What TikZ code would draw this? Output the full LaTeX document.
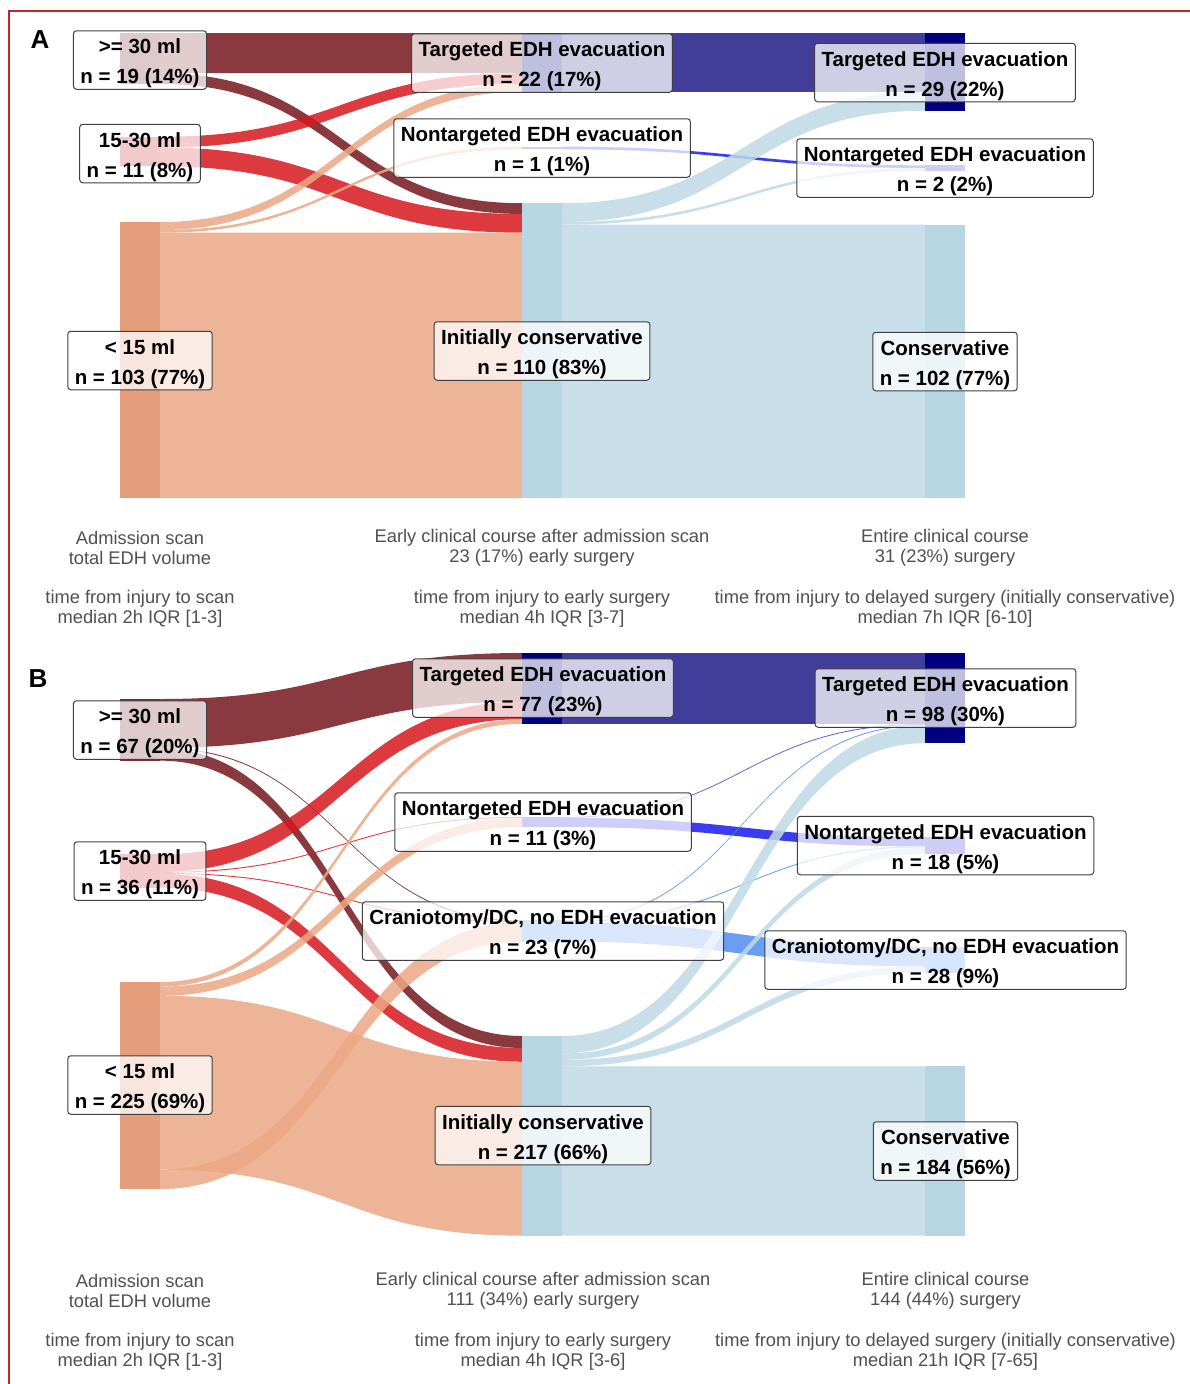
\documentclass[tikz,border=0pt]{standalone}
\usepackage{fontspec}
\setmainfont{Liberation Sans}
\definecolor{frameRed}{RGB}{194,38,45}
\definecolor{cDk}{RGB}{118,23,30}
\definecolor{cRd}{RGB}{214,24,29}
\definecolor{cOr}{RGB}{236,168,133}
\definecolor{cSl}{RGB}{34,28,136}
\definecolor{cBl}{RGB}{26,26,237}
\definecolor{cCf}{RGB}{80,141,243}
\definecolor{cLb}{RGB}{191,218,230}
\definecolor{cPu}{RGB}{100,70,200}
\definecolor{nDk}{RGB}{125,45,52}
\definecolor{nRd}{RGB}{205,45,52}
\definecolor{nOr}{RGB}{229,158,124}
\definecolor{nNv}{RGB}{0,0,128}
\definecolor{nBl}{RGB}{60,60,232}
\definecolor{nCf}{RGB}{92,156,244}
\definecolor{nLb}{RGB}{181,214,226}
\definecolor{capGray}{RGB}{80,80,80}
\newcommand{\sfl}[6]{%
  \pgfmathsetmacro{\sflm}{(#1+#3)/2}%
  \fill[#6] (#1,#2) .. controls (\sflm,#2) and (\sflm,#4) .. (#3,#4) -- (#3,#4+#5) .. controls (\sflm,#4+#5) and (\sflm,#2+#5) .. (#1,#2+#5) -- cycle;}
\newcommand{\lbltxt}[2]{\rule{0pt}{22pt}#1\\#2\rule[-4.5pt]{0pt}{4.5pt}}
\tikzset{
  fdk/.style={fill=cDk, fill opacity=0.85},
  frd/.style={fill=cRd, fill opacity=0.85},
  for/.style={fill=cOr, fill opacity=0.85},
  fsl/.style={fill=cSl, fill opacity=0.85},
  fbl/.style={fill=cBl, fill opacity=0.85},
  fcf/.style={fill=cCf, fill opacity=0.85},
  flb/.style={fill=cLb, fill opacity=0.85},
  fpu/.style={fill=cPu, fill opacity=0.85},
  lbl/.style={draw=black!75, line width=1pt, rounded corners=3pt, fill=white, fill opacity=0.75, text opacity=1, align=center, inner xsep=7pt, inner ysep=1pt, font=\bfseries\fontsize{20.5}{30}\selectfont},
  capt/.style={align=center, inner sep=0pt, text=capGray, font=\fontsize{18.3}{20}\selectfont},
  letter/.style={inner sep=0pt, font=\bfseries\fontsize{26}{26}\selectfont}
}
\begin{document}
\begin{tikzpicture}[x=1pt,y=-1pt]
\useasboundingbox (0,0) rectangle (1190,1384);
\fill[white] (0,0) rectangle (1190,1384);
\draw[frameRed, line width=2pt] (9,1384) -- (9,11) -- (1190,11);

% ---------------- Panel A : flows ----------------
\sfl{160}{33}{522}{33}{40.2}{fdk}
\sfl{160}{73.2}{522}{203.24}{10.72}{fdk}
\sfl{160}{136.76}{522}{73.2}{10.72}{frd}
\sfl{160}{147.48}{522}{213.96}{18.76}{frd}
\sfl{160}{222}{522}{83.92}{8.04}{for}
\sfl{160}{230.04}{522}{146.66}{2.68}{for}
\sfl{160}{232.72}{522}{232.72}{265.32}{for}
\sfl{562}{33}{925}{33}{58.96}{fsl}
\sfl{562}{146.66}{925}{165.32}{2.68}{fbl}
\sfl{562}{203.24}{925}{91.96}{18.76}{flb}
\sfl{562}{222}{925}{168}{2.68}{flb}
\sfl{562}{224.68}{925}{224.68}{273.36}{flb}
% nodes A
\fill[nDk] (120,33) rectangle (160,83.92);
\fill[nRd] (120,136.76) rectangle (160,166.24);
\fill[nOr] (120,222) rectangle (160,498.04);
\fill[nNv] (522,33) rectangle (562,91.96);
\fill[nBl] (522,146.66) rectangle (562,149.34);
\fill[nLb] (522,203.24) rectangle (562,498.04);
\fill[nNv] (925,33) rectangle (965,110.72);
\fill[nBl] (925,165.32) rectangle (965,170.68);
\fill[nLb] (925,224.68) rectangle (965,498.04);

% ---------------- Panel B : flows ----------------
\sfl{160}{699}{522}{653}{48.76}{fdk}
\sfl{160}{747.76}{522}{920.42}{0.92}{fdk}
\sfl{160}{748.68}{522}{1036}{11.96}{fdk}
\sfl{160}{854.44}{522}{701.76}{17.48}{frd}
\sfl{160}{871.92}{522}{816.94}{0.92}{frd}
\sfl{160}{872.84}{522}{921.34}{0.92}{frd}
\sfl{160}{873.76}{522}{1047.96}{13.8}{frd}
\sfl{160}{982}{522}{719.24}{4.6}{for}
\sfl{160}{986.6}{522}{817.86}{9.2}{for}
\sfl{160}{995.8}{522}{1061.76}{173.88}{for}
\sfl{160}{1169.68}{522}{922.26}{19.32}{for}
\sfl{562}{653}{925}{653}{70.84}{fsl}
\sfl{562}{816.94}{925}{723.84}{0.92}{fpu}
\sfl{562}{817.86}{925}{837.22}{9.2}{fbl}
\sfl{562}{920.42}{925}{724.76}{0.92}{fcf}
\sfl{562}{921.34}{925}{846.42}{0.92}{fcf}
\sfl{562}{922.26}{925}{947.12}{19.32}{fcf}
\sfl{562}{1036}{925}{725.68}{17.48}{flb}
\sfl{562}{1053.48}{925}{847.34}{6.44}{flb}
\sfl{562}{1059.92}{925}{966.44}{6.44}{flb}
\sfl{562}{1066.36}{925}{1066.36}{169.28}{flb}
% nodes B
\fill[nDk] (120,699) rectangle (160,760.64);
\fill[nRd] (120,854.44) rectangle (160,887.56);
\fill[nOr] (120,982) rectangle (160,1189);
\fill[nNv] (522,653) rectangle (562,723.84);
\fill[nBl] (522,816.94) rectangle (562,827.06);
\fill[nCf] (522,920.42) rectangle (562,941.58);
\fill[nLb] (522,1036) rectangle (562,1235.64);
\fill[nNv] (925,653) rectangle (965,743.16);
\fill[nBl] (925,837.22) rectangle (965,853.78);
\fill[nCf] (925,947.12) rectangle (965,972.88);
\fill[nLb] (925,1066.36) rectangle (965,1235.64);

% ---------------- labels A ----------------
\node[letter] (LA) at (40,40) {A};
\node[lbl] (a1) at (140,60) {\lbltxt{>= 30 ml}{n = 19 (14\%)}};
\node[lbl] (a2) at (140,153.5) {\lbltxt{15-30 ml}{n = 11 (8\%)}};
\node[lbl] (a3) at (140,360.5) {\lbltxt{< 15 ml}{n = 103 (77\%)}};
\node[lbl] (a4) at (542,63) {\lbltxt{Targeted EDH evacuation}{n = 22 (17\%)}};
\node[lbl] (a5) at (542,148) {\lbltxt{Nontargeted EDH evacuation}{n = 1 (1\%)}};
\node[lbl] (a6) at (542,351) {\lbltxt{Initially conservative}{n = 110 (83\%)}};
\node[lbl] (a7) at (945,72.5) {\lbltxt{Targeted EDH evacuation}{n = 29 (22\%)}};
\node[lbl] (a8) at (945,168) {\lbltxt{Nontargeted EDH evacuation}{n = 2 (2\%)}};
\node[lbl] (a9) at (945,361.5) {\lbltxt{Conservative}{n = 102 (77\%)}};

\node[capt] (ca1) at (140,548) {Admission scan\\total EDH volume};
\node[capt] (ca2) at (542,548) {Early clinical course after admission scan\\23 (17\%) early surgery};
\node[capt] (ca3) at (945,548) {Entire clinical course\\31 (23\%) surgery};
\node[capt] (ca4) at (140,609) {time from injury to scan\\median 2h IQR [1-3]};
\node[capt] (ca5) at (542,609) {time from injury to early surgery\\median 4h IQR [3-7]};
\node[capt] (ca6) at (945,609) {time from injury to delayed surgery (initially conservative)\\median 7h IQR [6-10]};

% ---------------- labels B ----------------
\node[letter] (LB) at (38,679) {B};
\node[lbl] (b1) at (140,730) {\lbltxt{>= 30 ml}{n = 67 (20\%)}};
\node[lbl] (b2) at (140,871) {\lbltxt{15-30 ml}{n = 36 (11\%)}};
\node[lbl] (b3) at (140,1085) {\lbltxt{< 15 ml}{n = 225 (69\%)}};
\node[lbl] (b4) at (543,688) {\lbltxt{Targeted EDH evacuation}{n = 77 (23\%)}};
\node[lbl] (b5) at (543,822) {\lbltxt{Nontargeted EDH evacuation}{n = 11 (3\%)}};
\node[lbl] (b6) at (543,931) {\lbltxt{Craniotomy/DC, no EDH evacuation}{n = 23 (7\%)}};
\node[lbl] (b7) at (543,1135.5) {\lbltxt{Initially conservative}{n = 217 (66\%)}};
\node[lbl] (b8) at (945.5,698) {\lbltxt{Targeted EDH evacuation}{n = 98 (30\%)}};
\node[lbl] (b9) at (945.5,845.5) {\lbltxt{Nontargeted EDH evacuation}{n = 18 (5\%)}};
\node[lbl] (b10) at (945.5,960) {\lbltxt{Craniotomy/DC, no EDH evacuation}{n = 28 (9\%)}};
\node[lbl] (b11) at (945.5,1151) {\lbltxt{Conservative}{n = 184 (56\%)}};

\node[capt] (cb1) at (140,1291) {Admission scan\\total EDH volume};
\node[capt] (cb2) at (543,1291) {Early clinical course after admission scan\\111 (34\%) early surgery};
\node[capt] (cb3) at (945.5,1291) {Entire clinical course\\144 (44\%) surgery};
\node[capt] (cb4) at (140,1352) {time from injury to scan\\median 2h IQR [1-3]};
\node[capt] (cb5) at (543,1352) {time from injury to early surgery\\median 4h IQR [3-6]};
\node[capt] (cb6) at (945.5,1352) {time from injury to delayed surgery (initially conservative)\\median 21h IQR [7-65]};
\end{tikzpicture}
\end{document}
